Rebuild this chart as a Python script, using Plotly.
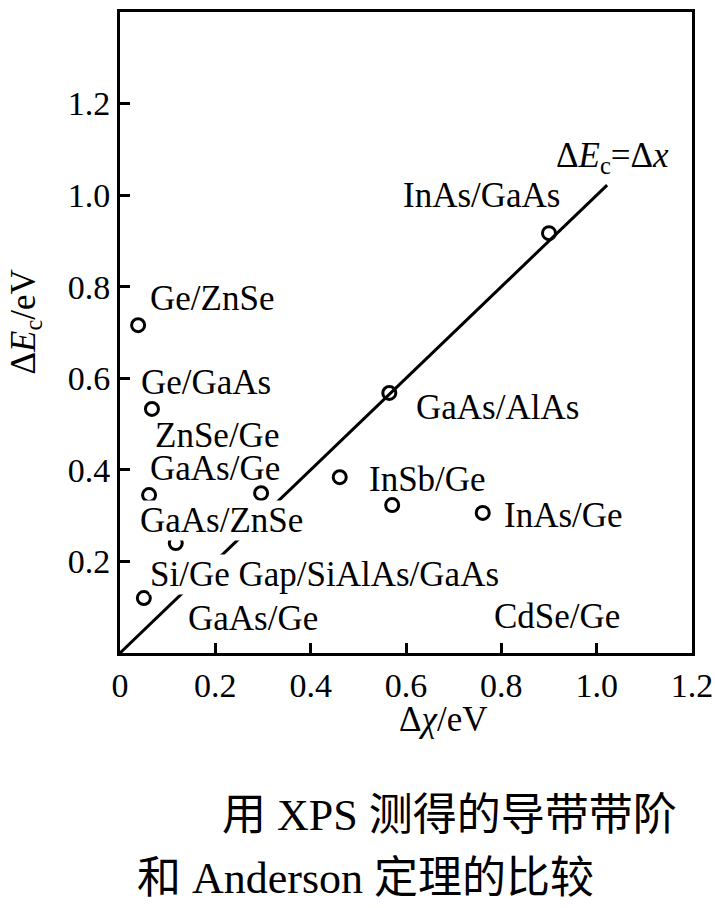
import plotly.graph_objects as go

# measured points (Δχ, ΔEc) in eV
dchi = [0.038, 0.067, 0.061, 0.296, 0.117, 0.050, 0.461, 0.565, 0.900, 0.571, 0.761]
dEc = [0.716, 0.533, 0.345, 0.349, 0.240, 0.120, 0.384, 0.568, 0.917, 0.323, 0.306]

# ΔEc = Δχ reference line
line_x = [0.0, 1.022]
line_y = [0.0, 1.022]

labels = ["Ge/ZnSe", "Ge/GaAs", "ZnSe/Ge", "GaAs/Ge", "GaAs/ZnSe",
          "Si/Ge Gap/SiAlAs/GaAs", "GaAs/Ge", "CdSe/Ge", "InAs/Ge",
          "InSb/Ge", "GaAs/AlAs", "InAs/GaAs"]
label_x = [0.193, 0.181, 0.204, 0.199, 0.212, 0.429, 0.279, 0.917, 0.930,
           0.645, 0.791, 0.759]
label_y = [0.775, 0.590, 0.476, 0.404, 0.290, 0.172, 0.076, 0.079, 0.300,
           0.378, 0.537, 1.000]

x_ticks = [0, 0.2, 0.4, 0.6, 0.8, 1.0, 1.2]
x_ticktext = ["0", "0.2", "0.4", "0.6", "0.8", "1.0", "1.2"]
y_ticks = [0.2, 0.4, 0.6, 0.8, 1.0, 1.2]
y_ticktext = ["0.2", "0.4", "0.6", "0.8", "1.0", "1.2"]

serif = "Liberation Serif"
fsize = 35

fig = go.Figure()
fig.add_trace(go.Scatter(x=line_x, y=line_y, mode="lines",
                         line=dict(color="black", width=3), showlegend=False))
fig.add_trace(go.Scatter(x=dchi, y=dEc, mode="markers",
                         marker=dict(symbol="circle-open", size=13, color="black",
                                     line=dict(width=3, color="black")),
                         showlegend=False))

gap_labels = ("GaAs/ZnSe", "Si/Ge Gap/SiAlAs/GaAs")
for t, lx, ly in zip(labels, label_x, label_y):
    fig.add_annotation(x=lx, y=ly, text=t, showarrow=False,
                       font=dict(family=serif, size=fsize, color="black"),
                       bgcolor="white" if t in gap_labels else None,
                       borderpad=0)

fig.add_annotation(x=1.034, y=1.083, text="Δ<i>E</i><sub>c</sub>=Δ<i>x</i>",
                   showarrow=False, font=dict(family=serif, size=fsize, color="black"))

# axis titles
fig.add_annotation(xref="paper", yref="paper", x=0.0, y=0.5, xshift=-95, yshift=10,
                   xanchor="center", yanchor="middle",
                   text="Δ<i>E</i><sub>c</sub>/eV", textangle=-90, showarrow=False,
                   font=dict(family=serif, size=fsize, color="black"))
fig.add_annotation(xref="paper", yref="paper", x=0.5, y=0.0, xshift=37, yshift=-66,
                   xanchor="center", yanchor="middle",
                   text="Δ<i>χ</i>/eV", showarrow=False,
                   font=dict(family=serif, size=fsize, color="black"))

# caption
cap_font = dict(family=serif + ", Noto Sans CJK SC", size=44, color="black")
fig.add_annotation(xref="paper", yref="paper", x=0.0, y=0.0, xshift=100, yshift=-162,
                   xanchor="left", yanchor="middle",
                   text="用 XPS 测得的导带带阶", showarrow=False, font=cap_font)
fig.add_annotation(xref="paper", yref="paper", x=0.0, y=0.0, xshift=15, yshift=-225,
                   xanchor="left", yanchor="middle",
                   text="和 Anderson 定理的比较", showarrow=False, font=cap_font)

axis_common = dict(showgrid=False, zeroline=False, showline=True, mirror=True,
                   linecolor="black", linewidth=3, ticks="inside", ticklen=10,
                   tickwidth=3, tickcolor="black", automargin=False,
                   tickfont=dict(family=serif, size=34, color="black"))
fig.update_xaxes(range=[0, 1.2], tickvals=x_ticks, ticktext=x_ticktext, **axis_common)
fig.update_yaxes(range=[0, 1.4], tickvals=y_ticks, ticktext=y_ticktext, **axis_common)

fig.update_layout(width=715, height=908,
                  margin=dict(l=120, r=23, t=12, b=255),
                  paper_bgcolor="white", plot_bgcolor="white")

# drop the default page margin so the figure sits at the window's corner
fig.write_html("out.html", config={"displayModeBar": False},
               post_script="document.body.style.margin='0';")
